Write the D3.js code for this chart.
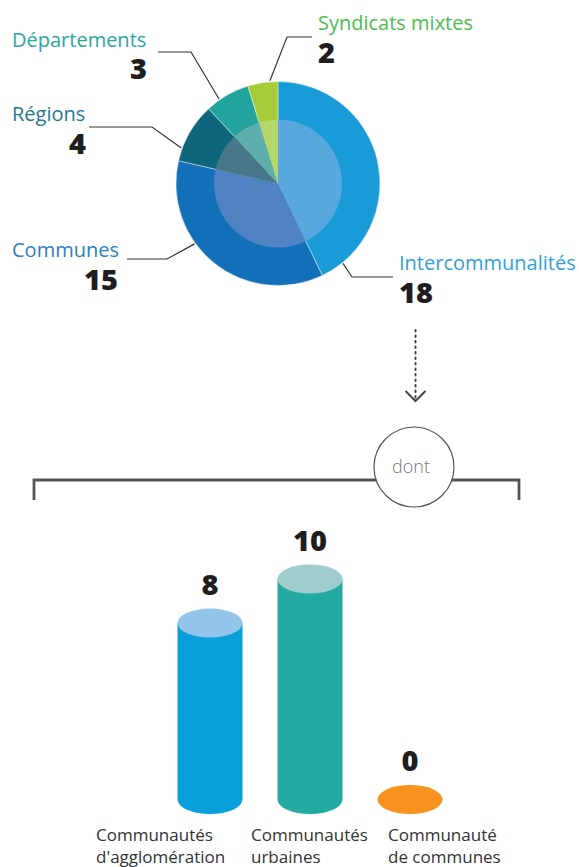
<!DOCTYPE html>
<html>
<head>
<meta charset="utf-8">
<script src="https://cdn.jsdelivr.net/npm/d3@7"></script>
<style>
  html, body { margin: 0; padding: 0; background: #fff; }
  svg { display: block; font-family: "Open Sans", sans-serif; }
</style>
</head>
<body>
<svg id="chart" width="579" height="867"></svg>
<script>
// ---- Data ----
const pieCategories = ["Intercommunalités", "Communes", "Régions", "Départements", "Syndicats mixtes"];
const pieValues = [18, 15, 4, 3, 2];

const barCategories = ["Communautés d'agglomération", "Communautés urbaines", "Communauté de communes"];
const barValues = [8, 10, 0];

// ---- Styles ----
const outerColors = ["#189bd7", "#1270b8", "#0e667c", "#22a39d", "#a5cd39"];
const innerColors = ["#58a8df", "#5083c3", "#467889", "#5eaeac", "#b5d66a"];
const labelColors = ["#2ea0dd", "#2a7fc1", "#1f7890", "#2aa69d", "#4cbc4c"];
const barColors = ["#089fda", "#22aaa3", "#f7921e"];
const barTopColors = ["#93c5ea", "#9fcdcc", "#f7921e"];

// Label layout for the donut: anchor angle on the rim (deg), elbow, line end, text positions
const pieLabelLayout = [
  { angle: 140.9, elbow: [352, 277], end: [393, 277], tx: 399, ty: 270, anchor: "start", nx: 399, ny: 303 },
  { angle: 234.1, elbow: [167, 259], end: [127, 259], tx: 12, ty: 257, anchor: "end", nx: 118, ny: 290 },
  { angle: 290.2, elbow: [152, 127], end: [89, 127], tx: 12, ty: 121, anchor: "end", nx: 86, ny: 154 },
  { angle: 325.1, elbow: [191, 52], end: [158, 52], tx: 12, ty: 47, anchor: "end", nx: 147, ny: 79 },
  { angle: 355.5, elbow: [287, 37], end: [312, 37], tx: 318, ty: 30, anchor: "start", nx: 318, ny: 63 }
];

const svg = d3.select("#chart");

// ---- Donut ----
const cx = 278, cy = 183.5, rOuter = 102, rInner = 64;
const pie = d3.pie().sort(null).value(d => d)(pieValues);
const outerArc = d3.arc().innerRadius(0).outerRadius(rOuter);
const innerArc = d3.arc().innerRadius(0).outerRadius(rInner);

const pg = svg.append("g").attr("transform", `translate(${cx},${cy})`);
pg.selectAll("path.outer").data(pie).join("path")
  .attr("class", "outer")
  .attr("d", outerArc)
  .attr("fill", (d, i) => outerColors[i])
  .attr("stroke", "#ffffff").attr("stroke-width", 0.6).attr("stroke-opacity", 0.7);
pg.selectAll("path.inner").data(pie).join("path")
  .attr("class", "inner")
  .attr("d", innerArc)
  .attr("fill", (d, i) => innerColors[i]);

// leader lines and labels
pieLabelLayout.forEach((L, i) => {
  const a = L.angle * Math.PI / 180;
  const sx = cx + (rOuter + 1) * Math.sin(a);
  const sy = cy - (rOuter + 1) * Math.cos(a);
  svg.append("polyline")
    .attr("points", [[sx, sy], L.elbow, L.end].map(p => p.join(",")).join(" "))
    .attr("fill", "none").attr("stroke", "#333").attr("stroke-width", 1.2);

  svg.append("text")
    .attr("x", L.tx).attr("y", L.ty)
    .attr("font-size", 20).attr("font-weight", 400)
    .attr("fill", labelColors[i])
    .text(pieCategories[i]);
  svg.append("text")
    .attr("x", L.nx).attr("y", L.ny)
    .attr("text-anchor", L.anchor)
    .attr("font-size", 29).attr("font-weight", 800)
    .attr("fill", "#1e1e1e")
    .text(pieValues[i]);
});

// ---- Dotted arrow ----
const arrowX = 415.5;
svg.append("line")
  .attr("x1", arrowX).attr("x2", arrowX).attr("y1", 330).attr("y2", 398)
  .attr("stroke", "#444").attr("stroke-width", 2)
  .attr("stroke-dasharray", "1.6,3.9").attr("stroke-linecap", "round");
svg.append("polyline")
  .attr("points", `${arrowX - 10},391 ${arrowX},401 ${arrowX + 10},391`)
  .attr("fill", "none").attr("stroke", "#444").attr("stroke-width", 2);

// ---- Bracket with "dont" ----
svg.append("path")
  .attr("d", "M34,500 V480 H519 V500")
  .attr("fill", "none").attr("stroke", "#555").attr("stroke-width", 2.8);
svg.append("circle")
  .attr("cx", 414).attr("cy", 467).attr("r", 40)
  .attr("fill", "#fff").attr("stroke", "#555").attr("stroke-width", 1.2);
svg.append("text")
  .attr("x", 411).attr("y", 473).attr("text-anchor", "middle")
  .attr("font-size", 18).attr("font-weight", 300).attr("fill", "#777")
  .text("dont");

// ---- Cylinder bars ----
const x = d3.scaleBand().domain(barCategories).range([177.5, 442.5]).paddingInner(0.35).paddingOuter(0);
const y = d3.scaleLinear().domain([0, 10]).range([799.5, 579]);
const rx = x.bandwidth() / 2, ry = 14.5;
const labelShift = [-81.5, -26.5, 10.5]; // left edge of each category label relative to bar left

const bars = svg.append("g");
barCategories.forEach((c, i) => {
  const left = x(c);
  const mid = left + rx;
  const yTop = y(barValues[i]);
  const yBase = y(0);
  if (barValues[i] > 0) {
    bars.append("path")
      .attr("d", `M${left},${yTop} V${yBase} A${rx},${ry} 0 0 0 ${left + 2 * rx},${yBase} V${yTop} Z`)
      .attr("fill", barColors[i]);
    bars.append("ellipse")
      .attr("cx", mid).attr("cy", yTop).attr("rx", rx).attr("ry", ry)
      .attr("fill", barTopColors[i]);
  } else {
    bars.append("ellipse")
      .attr("cx", mid).attr("cy", yBase).attr("rx", rx).attr("ry", ry)
      .attr("fill", barColors[i]);
  }
  bars.append("text")
    .attr("x", mid).attr("y", yTop - ry - 14)
    .attr("text-anchor", "middle")
    .attr("font-size", 29).attr("font-weight", 800).attr("fill", "#1e1e1e")
    .text(barValues[i]);

  const words = c.split(" ");
  const lines = [words[0], words.slice(1).join(" ")];
  const t = bars.append("text")
    .attr("x", left + labelShift[i]).attr("y", 841)
    .attr("font-size", 17).attr("font-weight", 400).attr("fill", "#333");
  lines.forEach((ln, k) => {
    t.append("tspan").attr("x", left + labelShift[i]).attr("dy", k === 0 ? 0 : 22).text(ln);
  });
});
</script>
</body>
</html>
